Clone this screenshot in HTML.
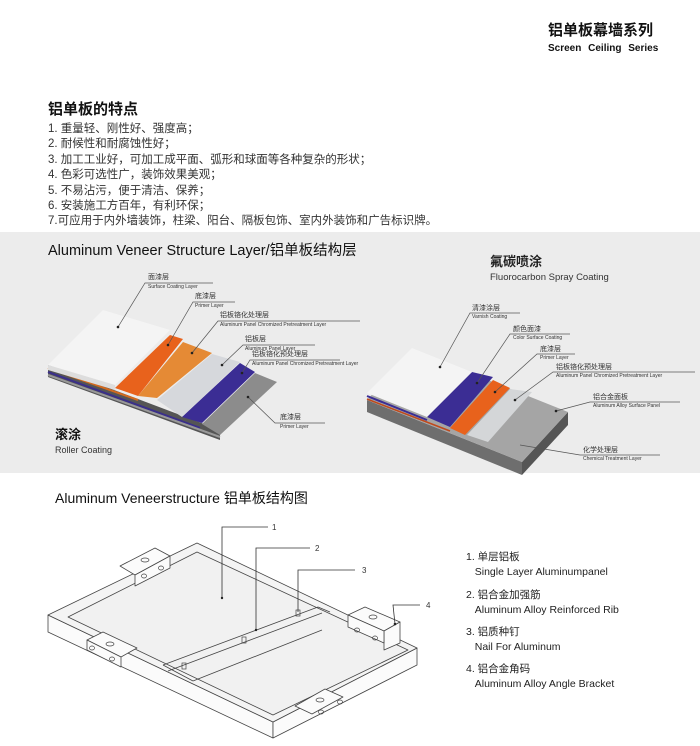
<!DOCTYPE html>
<html><head><meta charset="utf-8"><style>
html,body{margin:0;padding:0;background:#fff;}
body{width:700px;height:746px;position:relative;overflow:hidden;font-family:"Liberation Sans","Noto Sans CJK SC",sans-serif;color:#222;}
.a{position:absolute;white-space:nowrap;line-height:1.15;}
</style></head><body>
<div class="a" style="left:548px;top:22px;font-size:15px;font-weight:bold;color:#111;">铝单板幕墙系列</div>
<div class="a" style="left:548px;top:43px;font-size:10px;font-weight:bold;word-spacing:4px;color:#111;">Screen Ceiling Series</div>
<div class="a" style="left:48px;top:101px;font-size:15px;font-weight:bold;color:#111;">铝单板的特点</div>
<div class="a" style="left:48px;top:122px;font-size:11.5px;line-height:15.4px;color:#333;">1. 重量轻、刚性好、强度高；<br>2. 耐候性和耐腐蚀性好；<br>3. 加工工业好，可加工成平面、弧形和球面等各种复杂的形状；<br>4. 色彩可选性广，装饰效果美观；<br>5. 不易沾污，便于清洁、保养；<br>6. 安装施工方百年，有利环保；<br>7.可应用于内外墙装饰，柱梁、阳台、隔板包饰、室内外装饰和广告标识牌。</div>
<div class="a" style="left:0;top:232px;width:700px;height:241px;background:#ececec;"></div>
<div class="a" style="left:48px;top:243px;font-size:14.5px;color:#111;">Aluminum Veneer Structure Layer/铝单板结构层</div>
<svg class="a" style="left:0;top:0" width="700" height="746">
<g>
<polygon points="48,365 220,430 220,440 48,377" fill="#555"/>
<line x1="48" y1="368" x2="138" y2="400" stroke="#d2691e" stroke-width="2"/>
<line x1="48" y1="372" x2="200" y2="428" stroke="#3a2f8a" stroke-width="2"/>
<line x1="48" y1="375" x2="220" y2="437" stroke="#999" stroke-width="2"/>
<polygon points="255,373 277,382 220,435 202,424" fill="#8c8c8c"/>
<polygon points="240,363 255,372 202,423 182,417" fill="#3b2d94"/>
<polygon points="212,354 240,362 182,417 157,400" fill="#d6d8dc"/>
<polygon points="183,342 212,353 157,398 138,396" fill="#e58a35"/>
<polygon points="170,335 183,339 138,396 115,388" fill="#e8621c"/>
<polygon points="48,365 103,310 170,330 115,385" fill="#f4f4f4"/>
<polygon points="48,365 115,385 115,390 48,370" fill="#ddd"/>
</g>
<g stroke="#555" stroke-width="0.7" fill="none">
<polyline points="118,327 145,283 213,283"/><polyline points="168,345 193,302 235,302"/><polyline points="192,353 218,321 360,321"/><polyline points="222,365 243,345 315,345"/><polyline points="242,373 250,360 340,360"/><polyline points="248,397 275,423 325,423"/>
</g>
<g fill="#222"><circle cx="118" cy="327" r="1.3"/><circle cx="168" cy="345" r="1.3"/><circle cx="192" cy="353" r="1.3"/><circle cx="222" cy="365" r="1.3"/><circle cx="242" cy="373" r="1.3"/><circle cx="248" cy="397" r="1.3"/></g>
<g>
<polygon points="367,400 522,462 522,475 367,412" fill="#6e6e6e"/>
<polygon points="522,462 568,412 568,425 522,475" fill="#555"/>
<polygon points="367,400 413,350 568,412 522,462" fill="#a5a5a5"/>
<polygon points="510,389 532,392 488,442 467,435" fill="#d4d6d8"/>
<polygon points="493,380 510,388 465,435 450,428" fill="#e8621c"/>
<polygon points="472,372 493,377 450,427 427,417" fill="#3b2d94"/>
<line x1="367" y1="396" x2="427" y2="420" stroke="#3b2d94" stroke-width="2"/>
<line x1="367" y1="399" x2="450" y2="431" stroke="#c0491b" stroke-width="1.5"/>
<polygon points="367,393 412,348 472,372 427,417" fill="#f4f4f4"/>
</g>
<g stroke="#555" stroke-width="0.7" fill="none">
<polyline points="440,367 470,313 520,313"/><polyline points="477,383 510,334 570,334"/><polyline points="495,392 537,354 575,354"/><polyline points="515,400 553,372 695,372"/><polyline points="556,411 590,402 680,402"/><polyline points="520,445 580,455 660,455"/>
</g>
<g fill="#222"><circle cx="440" cy="367" r="1.3"/><circle cx="477" cy="383" r="1.3"/><circle cx="495" cy="392" r="1.3"/><circle cx="515" cy="400" r="1.3"/><circle cx="556" cy="411" r="1.3"/></g>
<g font-family="Liberation Sans,Noto Sans CJK SC,sans-serif" fill="#333">
<text x="148" y="279" font-size="7">面漆层</text><text x="148" y="288" font-size="5">Surface Coating Layer</text>
<text x="195" y="298" font-size="7">底漆层</text><text x="195" y="307" font-size="5">Primer Layer</text>
<text x="220" y="317" font-size="7">铝板铬化处理层</text><text x="220" y="326" font-size="5">Aluminum Panel Chromized Pretreatment Layer</text>
<text x="245" y="341" font-size="7">铝板层</text><text x="245" y="350" font-size="5">Aluminum Panel Layer</text>
<text x="252" y="356" font-size="7">铝板铬化预处理层</text><text x="252" y="365" font-size="5">Aluminum Panel Chromized Pretreatment Layer</text>
<text x="280" y="419" font-size="7">底漆层</text><text x="280" y="428" font-size="5">Primer Layer</text>
<text x="472" y="310" font-size="7">清漆涂层</text><text x="472" y="318" font-size="5">Varnish Coating</text>
<text x="513" y="331" font-size="7">颜色面漆</text><text x="513" y="339" font-size="5">Color Surface Coating</text>
<text x="540" y="351" font-size="7">底漆层</text><text x="540" y="359" font-size="5">Primer Layer</text>
<text x="556" y="369" font-size="7">铝板铬化预处理层</text><text x="556" y="377" font-size="5">Aluminum Panel Chromized Pretreatment Layer</text>
<text x="593" y="399" font-size="7">铝合金面板</text><text x="593" y="407" font-size="5">Aluminum Alloy Surface Panel</text>
<text x="583" y="452" font-size="7">化学处理层</text><text x="583" y="460" font-size="5">Chemical Treatment Layer</text>
</g>
<g stroke="#444" stroke-width="0.8" fill="#fbfbfb" stroke-linejoin="round">
<polygon points="48,615 48,632 273,738 273,722"/>
<polygon points="273,722 417,648 417,665 273,738"/>
<polygon points="48,615 197,543 417,648 273,722" fill="#f4f4f4"/>
<polygon points="68,617 197,552 408,650 273,715" fill="#f1f1f1"/>
<polyline points="163,665 318,607 330,612" fill="none"/>
<polyline points="168,671 322,613" fill="none"/>
<polyline points="193,681 322,630" fill="none"/>
<polyline points="163,665 193,681" fill="none"/>
<polygon points="120,566 155,548 170,556 135,575"/>
<polygon points="135,575 170,556 170,568 135,586"/>
<polygon points="87,640 103,632 137,648 121,657"/>
<polygon points="87,640 121,657 121,667 87,650"/>
<polygon points="348,615 365,607 400,622 384,631"/>
<polygon points="384,631 400,622 400,643 384,650"/>
<polygon points="348,615 384,631 384,643 348,627"/>
<polygon points="295,706 325,689 343,697 312,714"/>
</g>
<g fill="none" stroke="#444" stroke-width="0.7">
<ellipse cx="145" cy="560" rx="4" ry="2"/><ellipse cx="144" cy="576" rx="2.5" ry="2"/><ellipse cx="161" cy="568" rx="2.5" ry="2"/>
<ellipse cx="110" cy="644" rx="4" ry="2"/><ellipse cx="92" cy="648" rx="2.5" ry="2"/><ellipse cx="112" cy="659" rx="2.5" ry="2"/>
<ellipse cx="373" cy="617" rx="4" ry="2"/><ellipse cx="357" cy="630" rx="2.5" ry="2"/><ellipse cx="375" cy="638" rx="2.5" ry="2"/>
<ellipse cx="320" cy="700" rx="4" ry="2"/><ellipse cx="321" cy="712" rx="2.5" ry="2"/><ellipse cx="340" cy="702" rx="2.5" ry="2"/>
<rect x="182" y="663" width="4" height="6"/><rect x="242" y="637" width="4" height="6"/><rect x="296" y="610" width="4" height="6"/>
</g>
<g stroke="#333" stroke-width="0.8" fill="none">
<polyline points="222,598 222,527 268,527"/><polyline points="256,630 256,548 310,548"/><polyline points="298,612 298,570 355,570"/><polyline points="395,624 393,605 420,605"/>
</g>
<g fill="#222"><circle cx="222" cy="598" r="1.2"/><circle cx="256" cy="630" r="1.2"/><circle cx="395" cy="624" r="1.3"/></g>
<g font-family="Liberation Sans,sans-serif" font-size="8" fill="#333"><text x="272" y="530">1</text><text x="315" y="551">2</text><text x="362" y="573">3</text><text x="426" y="608">4</text></g>
</svg>
<div class="a" style="left:55px;top:428px;font-size:13px;font-weight:bold;color:#111;">滚涂</div>
<div class="a" style="left:55px;top:445px;font-size:9px;color:#333;">Roller Coating</div>
<div class="a" style="left:490px;top:255px;font-size:13px;font-weight:bold;color:#222;">氟碳喷涂</div>
<div class="a" style="left:490px;top:273px;font-size:9.5px;color:#333;">Fluorocarbon Spray Coating</div>
<div class="a" style="left:55px;top:490px;font-size:14px;color:#111;">Aluminum Veneerstructure 铝单板结构图</div>
<div class="a" style="left:466px;top:550px;font-size:10.5px;line-height:14.5px;color:#222;">1. 单层铝板<br>&nbsp;&nbsp;&nbsp;Single Layer Aluminumpanel</div>
<div class="a" style="left:466px;top:588px;font-size:10.5px;line-height:14.5px;color:#222;">2. 铝合金加强筋<br>&nbsp;&nbsp;&nbsp;Aluminum Alloy Reinforced Rib</div>
<div class="a" style="left:466px;top:625px;font-size:10.5px;line-height:14.5px;color:#222;">3. 铝质种钉<br>&nbsp;&nbsp;&nbsp;Nail For Aluminum</div>
<div class="a" style="left:466px;top:662px;font-size:10.5px;line-height:14.5px;color:#222;">4. 铝合金角码<br>&nbsp;&nbsp;&nbsp;Aluminum Alloy Angle Bracket</div>
</body></html>
